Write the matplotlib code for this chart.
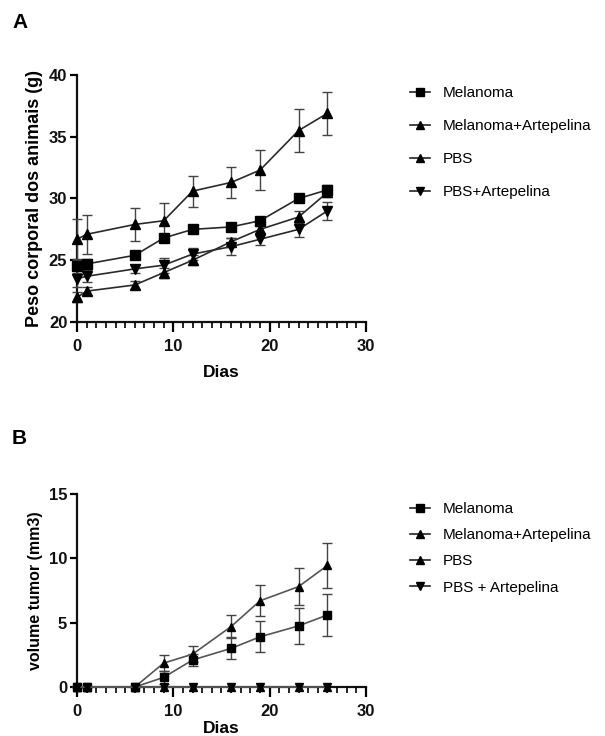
import matplotlib
matplotlib.use("Agg")
import matplotlib.pyplot as plt
import numpy as np

plt.rcParams['font.family'] = ['Liberation Sans', 'DejaVu Sans']

days = [0, 1, 6, 9, 12, 16, 19, 23, 26]

# Panel A: body weight (g)
a_mel = [24.5, 24.7, 25.4, 26.8, 27.5, 27.7, 28.2, 30.0, 30.7]
a_mel_err = [0.5, 0.4, 0.3, 0.3, 0.2, 0.2, 0.3, 0.3, 0.4]
a_melart = [26.7, 27.1, 27.9, 28.2, 30.6, 31.3, 32.3, 35.5, 36.9]
a_melart_err = [1.6, 1.6, 1.35, 1.4, 1.25, 1.25, 1.65, 1.75, 1.75]
a_pbs = [22.0, 22.5, 23.0, 24.0, 25.0, 26.5, 27.5, 28.5, 30.5]
a_pbs_err = [0.4, 0.3, 0.3, 0.4, 0.4, 0.3, 0.3, 0.5, 0.4]
a_pbsart = [23.5, 23.7, 24.3, 24.6, 25.5, 26.1, 26.7, 27.5, 29.0]
a_pbsart_err = [0.7, 0.5, 0.3, 0.6, 0.5, 0.7, 0.5, 0.6, 0.75]

# Panel B: tumor volume (mm3)
b_mel = [0, 0, 0, 0.75, 2.1, 3.0, 3.9, 4.75, 5.6]
b_mel_err = [0, 0, 0, 0.5, 0.45, 0.85, 1.2, 1.4, 1.65]
b_melart = [0, 0, 0, 1.86, 2.55, 4.7, 6.7, 7.8, 9.45]
b_melart_err = [0, 0, 0, 0.6, 0.6, 0.9, 1.2, 1.45, 1.75]
b_pbs = [0, 0, 0, 0, 0, 0, 0, 0, 0]
b_pbsart = [0, 0, 0, 0, 0, 0, 0, 0, 0]

labels_a = ["Melanoma", "Melanoma+Artepelina", "PBS", "PBS+Artepelina"]
labels_b = ["Melanoma", "Melanoma+Artepelina", "PBS", "PBS + Artepelina"]
markers = ["s", "^", "^", "v"]

W, H = 605, 736
fig = plt.figure(figsize=(W / 100, H / 100), dpi=100)


def px_axes(x0, y0, x1, y1):
    return fig.add_axes([x0 / W, 1 - y1 / H, (x1 - x0) / W, (y1 - y0) / H])


def style(ax, ylim, yticks, xlabel, ylabel, ylabel_size):
    ax.set_xlim(0, 30)
    ax.set_ylim(*ylim)
    ax.set_yticks(yticks)
    ax.set_xticks([0, 10, 20, 30])
    ax.set_xticks(np.arange(0, 31, 1), minor=True)
    for s in ["top", "right"]:
        ax.spines[s].set_visible(False)
    for s in ["left", "bottom"]:
        ax.spines[s].set_linewidth(1.6)
        ax.spines[s].set_color("#111111")
        ax.spines[s].set_zorder(0.5)
    ax.tick_params(axis="x", which="major", length=7, width=1.6, direction="out", pad=5)
    ax.tick_params(axis="x", which="minor", length=4, width=1.2, direction="out")
    ax.tick_params(axis="y", which="major", length=5, width=1.6, direction="out", pad=2)
    for lab in ax.get_xticklabels() + ax.get_yticklabels():
        lab.set_fontweight("bold")
        lab.set_fontsize(12)
        lab.set_color("#111111")
    ax.set_xlabel(xlabel, fontsize=12.5, fontweight="bold", labelpad=8)
    ax.set_ylabel(ylabel, fontsize=ylabel_size, fontweight="bold", labelpad=4)
    ax.patch.set_alpha(0)


def series(ax, x, y, err, marker, ms, lc):
    return ax.errorbar(x, y, yerr=err, marker=marker, ms=ms, color=lc,
                       mfc="black", mec="black", lw=1.2, elinewidth=1.0,
                       ecolor="#444444", capsize=3.5, capthick=1.0, clip_on=False, zorder=3)


def legend_handles():
    return [plt.Line2D([], [], color="#222222", lw=1.2, marker=m, ms=5.5,
                       mfc="black", mec="black") for m in markers]


# Panel A
axA = px_axes(77, 75, 366, 322)
series(axA, days, a_mel, a_mel_err, "s", 7, "#2a2a2a")
series(axA, days, a_melart, a_melart_err, "^", 7, "#2a2a2a")
series(axA, days, a_pbs, a_pbs_err, "^", 7, "#2a2a2a")
series(axA, days, a_pbsart, a_pbsart_err, "v", 7, "#2a2a2a")
style(axA, (20, 40), [20, 25, 30, 35, 40], "Dias", "Peso corporal dos animais (g)", 13)

fig.legend(legend_handles(), labels_a, loc="upper left", bbox_to_anchor=(410 / W, 1 - 86 / H),
           frameon=False, fontsize=11, handlelength=1.3, handletextpad=0.85,
           labelspacing=1.25, borderaxespad=0, borderpad=0)

# Panel B
axB = px_axes(77, 494, 366, 687)
series(axB, days, b_mel, b_mel_err, "s", 6, "#555555")
series(axB, days, b_melart, b_melart_err, "^", 6, "#555555")
series(axB, days, b_pbs, None, "^", 6, "#555555")
series(axB, days, b_pbsart, None, "v", 6, "#555555")
style(axB, (0, 15), [0, 5, 10, 15], "Dias", "volume tumor (mm3)", 11.5)
axB.xaxis.labelpad = 2

fig.legend(legend_handles(), labels_b, loc="upper left", bbox_to_anchor=(410 / W, 1 - 502 / H),
           frameon=False, fontsize=11, handlelength=1.3, handletextpad=0.85,
           labelspacing=0.8, borderaxespad=0, borderpad=0)

fig.text(12 / W, 1 - 23 / H, "A", fontsize=15, fontweight="bold", va="center", ha="left")
fig.text(12 / W, 1 - 439 / H, "B", fontsize=15, fontweight="bold", va="center", ha="left")

fig.savefig("out.png", dpi=100, facecolor="white")
